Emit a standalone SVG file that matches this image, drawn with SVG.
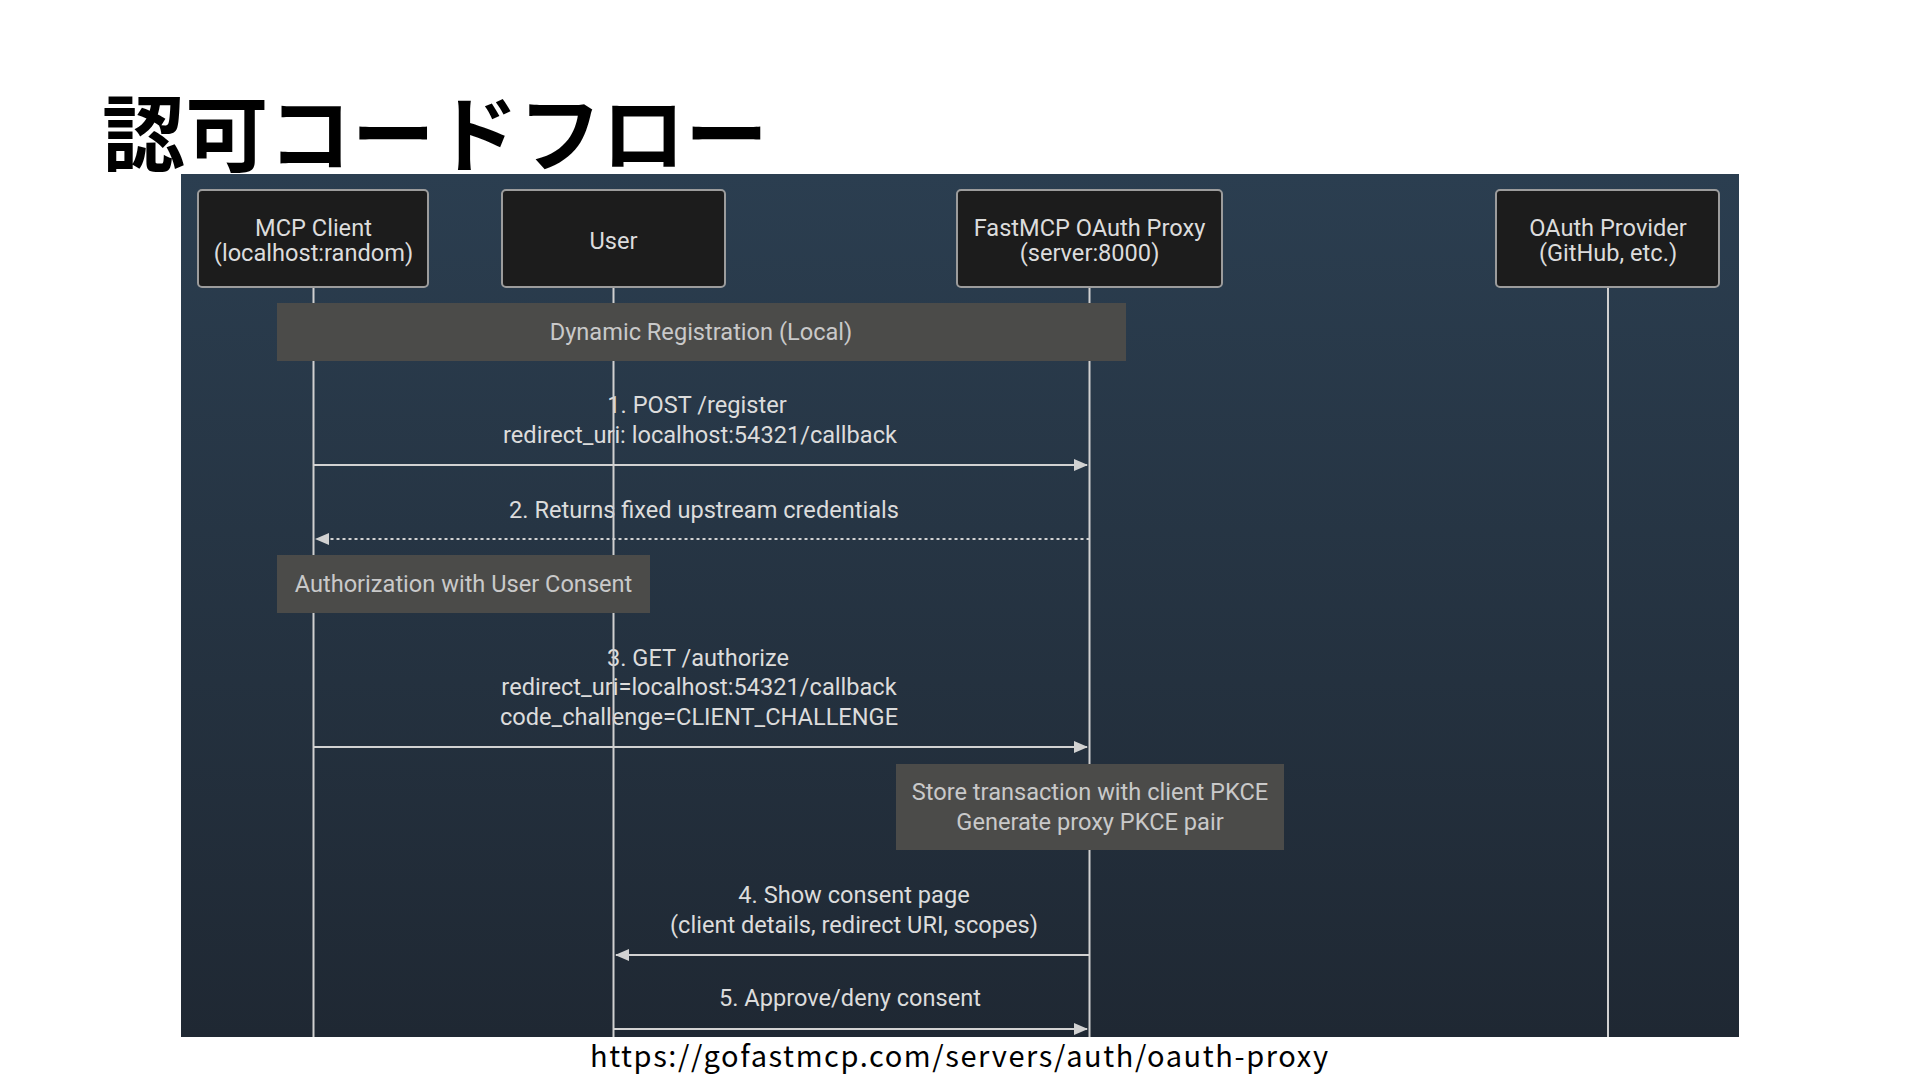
<svg xmlns="http://www.w3.org/2000/svg" width="1920" height="1080" viewBox="0 0 1920 1080">
<defs>
<linearGradient id="bg" x1="0" y1="0" x2="0" y2="1">
<stop offset="0" stop-color="#2b3e50"/>
<stop offset="1" stop-color="#1f2833"/>
</linearGradient>
<marker id="ah" markerWidth="14" markerHeight="12" refX="13" refY="6" orient="auto" markerUnits="userSpaceOnUse">
<path d="M0,0 L14,6 L0,12 Z" fill="#d2d2d2"/>
</marker>
</defs>
<style>
.t{font-family:Roboto,"Noto Sans",sans-serif;font-size:23.6px;fill:#dcdcdc;text-anchor:middle}
.box{fill:#1c1c1c;stroke:#9c9c9c;stroke-width:2}
.band{fill:#4b4b49}
.bt{font-family:Roboto,"Noto Sans",sans-serif;font-size:23.6px;fill:#c9c9c9;text-anchor:middle}
.life{stroke:#d0d0d0;stroke-width:2}
.msg{stroke:#d2d2d2;stroke-width:2.2;fill:none;marker-end:url(#ah)}
.dash{stroke-dasharray:3 3}
</style>
<rect width="1920" height="1080" fill="#ffffff"/>
<text x="102" y="165" font-family="'Noto Sans CJK JP',sans-serif" font-weight="700" font-size="83" fill="#000" textLength="666">認可コードフロー</text>
<rect x="181" y="174" width="1558" height="863" fill="url(#bg)"/>

<g id="message-labels">
<text class="t" x="697" y="413">1. POST /register</text>
<text class="t" x="700" y="443">redirect_uri: localhost:54321/callback</text>
<text class="t" x="704" y="518">2. Returns fixed upstream credentials</text>
<text class="t" x="698" y="666">3. GET /authorize</text>
<text class="t" x="699" y="695">redirect_uri=localhost:54321/callback</text>
<text class="t" x="699" y="725">code_challenge=CLIENT_CHALLENGE</text>
<text class="t" x="854" y="903">4. Show consent page</text>
<text class="t" x="854" y="933">(client details, redirect URI, scopes)</text>
<text class="t" x="850" y="1006">5. Approve/deny consent</text>
</g>

<g id="lifelines">
<line class="life" x1="313.5" y1="287" x2="313.5" y2="1037"/>
<line class="life" x1="613.5" y1="287" x2="613.5" y2="1037"/>
<line class="life" x1="1089.5" y1="287" x2="1089.5" y2="1037"/>
<line class="life" x1="1608" y1="287" x2="1608" y2="1037"/>
</g>

<g id="connectors">
<line class="msg" x1="313.5" y1="465" x2="1087" y2="465"/>
<line class="msg dash" x1="1089.5" y1="539" x2="316" y2="539"/>
<line class="msg" x1="313.5" y1="747" x2="1087" y2="747"/>
<line class="msg" x1="1089.5" y1="955" x2="616" y2="955"/>
<line class="msg" x1="613.5" y1="1029" x2="1087" y2="1029"/>
</g>

<g id="note-dynamic-registration">
<rect class="band" x="277" y="303" width="849" height="58"/>
<text class="bt" x="701" y="340">Dynamic Registration (Local)</text>
</g>
<g id="note-authorization">
<rect class="band" x="277" y="555" width="373" height="58"/>
<text class="bt" x="463.5" y="592">Authorization with User Consent</text>
</g>
<g id="note-store-transaction">
<rect class="band" x="896" y="764" width="388" height="86"/>
<text class="bt" x="1090" y="800">Store transaction with client PKCE</text>
<text class="bt" x="1090" y="830">Generate proxy PKCE pair</text>
</g>

<g id="mcp-client">
<rect class="box" x="198" y="190" width="230" height="97" rx="4"/>
<text class="t" x="313.5" y="236">MCP Client</text>
<text class="t" x="313.5" y="261">(localhost:random)</text>
</g>
<g id="user">
<rect class="box" x="502" y="190" width="223" height="97" rx="4"/>
<text class="t" x="613.5" y="249">User</text>
</g>
<g id="fastmcp-oauth-proxy">
<rect class="box" x="957" y="190" width="265" height="97" rx="4"/>
<text class="t" x="1089.5" y="236">FastMCP OAuth Proxy</text>
<text class="t" x="1089.5" y="261">(server:8000)</text>
</g>
<g id="oauth-provider">
<rect class="box" x="1496" y="190" width="223" height="97" rx="4"/>
<text class="t" x="1608" y="236">OAuth Provider</text>
<text class="t" x="1608" y="261">(GitHub, etc.)</text>
</g>

<text x="959" y="1067" font-family="'Noto Sans CJK JP',sans-serif" font-size="29" fill="#000" text-anchor="middle" textLength="738">https://gofastmcp.com/servers/auth/oauth-proxy</text>
</svg>
